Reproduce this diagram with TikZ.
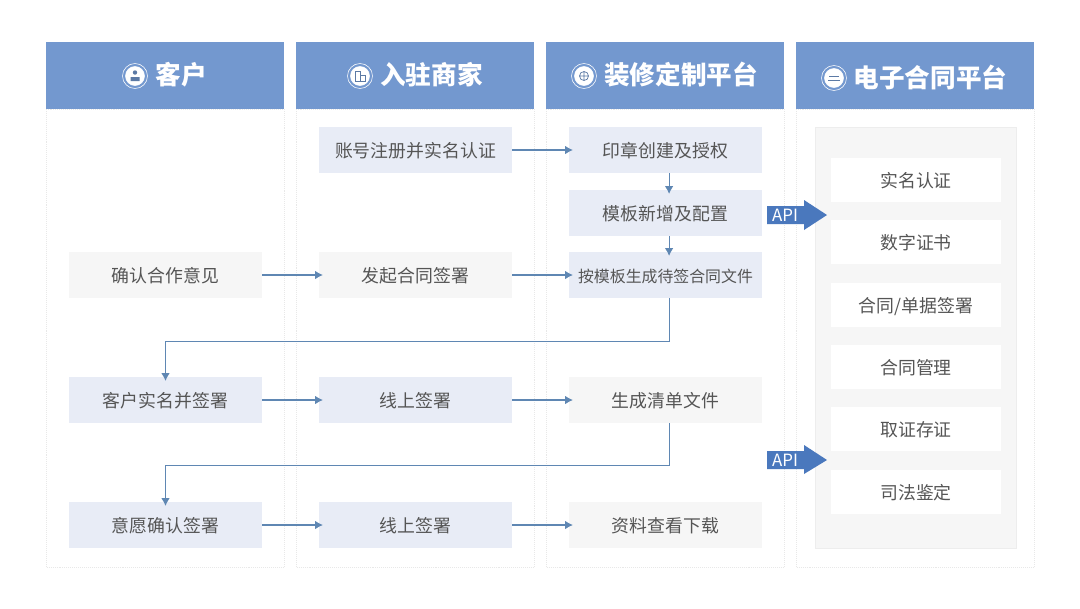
\documentclass[tikz,border=0pt]{standalone}
\usepackage{fontspec}
\setmainfont{Noto Sans CJK SC}
\usepackage{xcolor}
\usetikzlibrary{arrows.meta}
\definecolor{headblue}{HTML}{7398CF}
\definecolor{boxblue}{HTML}{E8ECF6}
\definecolor{boxgray}{HTML}{F6F6F6}
\definecolor{panelgray}{HTML}{F6F6F6}
\definecolor{flowblue}{HTML}{5F87B3}
\definecolor{apiblue}{HTML}{4A78BD}
\definecolor{textgray}{HTML}{555555}
\tikzset{
	headbox/.style={fill=headblue, text=white, minimum width=5.95cm, minimum height=1.675cm, inner sep=0pt},
	headtext/.style={text=white, font=\fontsize{18.2}{20}\selectfont\bfseries, inner sep=0pt},
	stepblue/.style={fill=boxblue, text=textgray, font=\fontsize{12.7}{15}\selectfont, minimum width=4.825cm, minimum height=1.15cm, inner sep=0pt, text height=12.6pt, text depth=1.5pt},
	stepgray/.style={stepblue, fill=boxgray},
	service/.style={fill=white, text=textgray, font=\fontsize{12.7}{15}\selectfont, minimum width=4.25cm, minimum height=1.1cm, inner sep=0pt, text height=12.6pt, text depth=1.5pt},
	flow/.style={draw=flowblue, line width=0.8pt, shorten >=-3pt, -{Latex[length=5.5pt,width=6pt]}},
	colframe/.style={draw=black!9, densely dotted, line width=0.4pt},
	apiarrow/.style={fill=apiblue},
	apitext/.style={text=white, font=\fontsize{12}{14}\selectfont, inner sep=0pt}
}
\begin{document}
\begin{tikzpicture}[x=0.025cm, y=-0.025cm]
	\useasboundingbox[fill=white] (0,0) rectangle (1080,608);
	\draw[colframe] (46,109) rectangle (284,567);
	\draw[colframe] (296,109) rectangle (534,567);
	\draw[colframe] (546,109) rectangle (784,567);
	\draw[colframe] (796,109) rectangle (1034,567);
	\node[headbox] (custhead) at (165,75.5) {};
	\node[headbox] (merchhead) at (415,75.5) {};
	\node[headbox] (platehead) at (665,75.5) {};
	\node[headbox] (contracthead) at (915,75.5) {};
	\node[headtext] (custtitle) at (181,75) {客户};
	\node[headtext] (merchtitle) at (431.5,75) {入驻商家};
	\node[headtext] (platetitle) at (681,75) {装修定制平台};
	\node[headtext] (contracttitle) at (930.5,77) {电子合同平台};
	\filldraw[fill=white, draw=white, line width=0.4pt] (135,76) circle (9.5);
	\draw[white, line width=0.4pt] (135,76) circle (12.5);
	\fill[headblue!80!black] (135,72.5) circle (2.2) (130.5,81) rectangle (139.5,77);
	\filldraw[fill=white, draw=white, line width=0.4pt] (360,76) circle (9.5);
	\draw[white, line width=0.4pt] (360,76) circle (12.5);
	\draw[headblue!80!black, line width=0.5pt] (355,81) rectangle (360,71) (360,81) rectangle (365,75);
	\filldraw[fill=white, draw=white, line width=0.4pt] (584,76) circle (9.5);
	\draw[white, line width=0.4pt] (584,76) circle (12.5);
	\draw[headblue!80!black, line width=0.5pt] (584,76) circle (4.5) (579.5,76) -- (588.5,76) (584,71.5) -- (584,80.5);
	\filldraw[fill=white, draw=white, line width=0.4pt] (834,78) circle (9.5);
	\draw[white, line width=0.4pt] (834,78) circle (12.5);
	\draw[headblue!80!black, line width=0.6pt] (829,76) -- (839,76) (828,80) -- (840,80);
	\node[stepblue] (register) at (415.5,150) {账号注册并实名认证};
	\node[stepblue] (seal) at (665.5,150) {印章创建及授权};
	\node[stepblue] (template) at (665.5,213) {模板新增及配置};
	\node[stepgray] (confirm) at (165.5,275) {确认合作意见};
	\node[stepgray] (initiate) at (415.5,275) {发起合同签署};
	\node[stepblue, font=\fontsize{11.3}{15}\selectfont] (generate) at (665.5,275) {按模板生成待签合同文件};
	\node[stepblue] (custsign) at (165.5,400) {客户实名并签署};
	\node[stepblue] (onlinea) at (415.5,400) {线上签署};
	\node[stepgray] (listfile) at (665.5,400) {生成清单文件};
	\node[stepblue] (willsign) at (165.5,525) {意愿确认签署};
	\node[stepblue] (onlineb) at (415.5,525) {线上签署};
	\node[stepgray] (download) at (665.5,525) {资料查看下载};
	\filldraw[fill=panelgray, draw=black!7, line width=0.4pt] (815,127) rectangle (1016,548);
	\node[service] (realname) at (916,180) {实名认证};
	\node[service] (certificate) at (916,242) {数字证书};
	\node[service] (signing) at (916,305) {合同/单据签署};
	\node[service] (manage) at (916,367) {合同管理};
	\node[service] (evidence) at (916,429) {取证存证};
	\node[service] (judicial) at (916,492) {司法鉴定};
	\draw[flow] (register) to (seal);
	\draw[flow] (confirm) to (initiate);
	\draw[flow] (initiate) to (generate);
	\draw[flow] (custsign) to (onlinea);
	\draw[flow] (onlinea) to (listfile);
	\draw[flow] (willsign) to (onlineb);
	\draw[flow] (onlineb) to (download);
	\draw[flow] ([xshift=0.09cm]seal.south) to ([xshift=0.09cm]template.north);
	\draw[flow] ([xshift=0.09cm]template.south) to ([xshift=0.09cm]generate.north);
	\draw[flow] ([xshift=0.09cm]generate.south) -- ++(0,43) -| (custsign.north);
	\draw[flow] ([xshift=0.09cm]listfile.south) -- ++(0,42) -| (willsign.north);
	\fill[apiarrow] (767,206) -- (804,206) -- (804,200) -- (827,215) -- (804,230) -- (804,224) -- (767,224) -- cycle;
	\node[apitext] (apiatext) at (785,215) {API};
	\fill[apiarrow] (767,451) -- (804,451) -- (804,445) -- (827,460) -- (804,474) -- (804,469) -- (767,469) -- cycle;
	\node[apitext] (apibtext) at (785,460) {API};
\end{tikzpicture}
\end{document}
